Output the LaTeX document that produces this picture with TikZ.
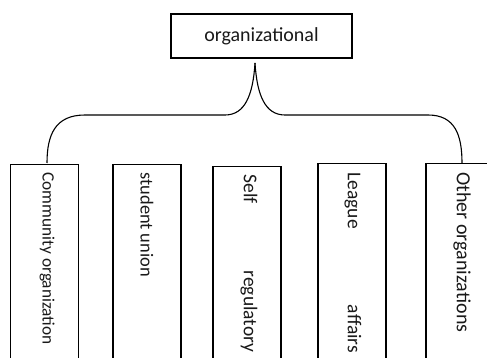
\documentclass[tikz,border=0pt]{standalone}
\usepackage{fontspec}
\setmainfont{Carlito}
\begin{document}
\begin{tikzpicture}[x=1pt,y=-1pt,line width=1.1pt,
    box/.style={draw,minimum width=68pt,minimum height=220pt,anchor=north,inner sep=0pt},
    lbl/.style={rotate=-90,anchor=west,inner sep=0pt,text=black!90},
    fs/.style={font=\fontsize{#1}{#1}\selectfont}]
    \useasboundingbox (0,0) rectangle (487,358);
    \clip (0,0) rectangle (487,358);
    % root
    \node[draw,minimum width=181pt,minimum height=44pt,text=black!90,fs=20] (root) at (261.5,36) {organizational};
    % branches
    \node[box] (community) at (44.5,164) {};
    \node[box] (union) at (147,164) {};
    \node[box] (self) at (247,166) {};
    \node[box] (league) at (352,163) {};
    \node[box,minimum width=72pt] (other) at (462,163) {};
    \node[lbl,fs=17.3] (communitytext) at (47,172) {Community organization};
    \node[lbl,fs=18.4] (uniontext) at (147,172) {student union};
    \node[lbl,fs=19.5] (selftext) at (249,174) {Self\hspace{67pt}regulatory};
    \node[lbl,fs=19.5] (leaguetext) at (353,172) {League\hspace{76pt}affairs};
    \node[lbl,fs=20] (othertext) at (462,172) {Other organizations};
    % brace
    \coordinate (tip) at (255,63);
    \coordinate (leftend) at (47,163);
    \coordinate (rightend) at (462,163);
    \draw (tip) .. controls (253,95) and (245,115) .. (225,115) -- (85,115)
      .. controls (55,115) and (47,135) .. (leftend);
    \draw (tip) .. controls (257,95) and (265,115) .. (285,115) -- (428,115)
      .. controls (455,115) and (462,135) .. (rightend);
\end{tikzpicture}
\end{document}
